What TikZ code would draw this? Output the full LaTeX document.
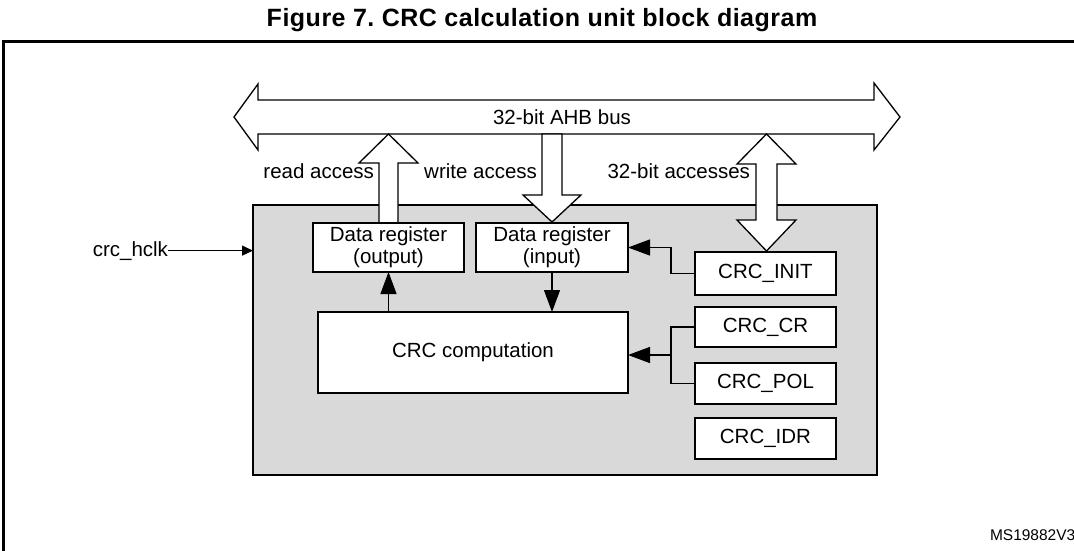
\documentclass[tikz,border=0pt]{standalone}
\usepackage{fontspec}
\setmainfont{Liberation Sans}
\usetikzlibrary{arrows.meta}

\begin{document}
\begin{tikzpicture}[x=1pt, y=-1pt]
\tikzset{ >={Triangle[length=22pt,width=16pt]}, inner sep=0pt, outer sep=0pt,
  reg/.style={draw, line width=1.8pt, fill=white, align=center, font=\fontsize{20.5}{22}\selectfont},
  lbl/.style={font=\fontsize{20.5}{24}\selectfont},
  fat/.style={draw, line width=1.3pt, fill=white, line join=miter},
  wire/.style={line width=1.3pt} }

\useasboundingbox (0,0) rectangle (1074,551);

%\draw [lightgray, dashed](0,0) grid[step=50] (1074,551);

\draw [line width=3pt] (1080,41.5) -- (3,41.5) -- (3,560);

\node [font=\fontsize{25}{28}\selectfont\bfseries\addfontfeature{LetterSpace=2}] (title) at (542,20) {Figure 7.\ CRC calculation unit block diagram};

\node [draw, fill=gray!30, line width=1.5pt, minimum width=624pt, minimum height=270pt] (crc) at (565,340) {};

\draw [fat] (234,117) -- (258,84) -- (258,100) -- (874,100) -- (874,83) -- (900,117)
            -- (874,150) -- (874,134) -- (258,134) -- (258,150) -- cycle;
\node [lbl] (bus) at (562,117) {32-bit AHB bus};

\draw [fat] (379,223) -- (379,163) -- (359,163) -- (388.5,134) -- (418,163) -- (398,163) -- (398,223) -- cycle;
\draw [fat] (542,134) -- (542,195) -- (523,195) -- (552,222) -- (581,195) -- (562,195) -- (562,134) -- cycle;
\draw [fat] (766.5,134) -- (796,164) -- (777,164) -- (777,220) -- (796,220) -- (766.5,251)
            -- (737,220) -- (756,220) -- (756,164) -- (737,164) -- cycle;

\node [lbl, anchor=base east] (rd)  at (374,178) {read access};
\node [lbl, anchor=base east] (wr)  at (537,178) {write access};
\node [lbl, anchor=base east] (acc) at (750,178) {32-bit accesses};

\node [reg, minimum width=151pt, minimum height=49pt] (dout) at (388.5,247.5) {Data register\\(output)};
\node [reg, minimum width=152pt, minimum height=49pt] (din)  at (552,247.5) {Data register\\(input)};
\node [reg, minimum width=310pt, minimum height=81pt] (comp) at (473,352.5) {CRC computation};

\node [reg, minimum width=141pt, minimum height=43pt] (init) at (765.5,273.5) {CRC\_INIT};
\node [reg, minimum width=141pt, minimum height=40pt] (cr)   at (765.5,327)   {CRC\_CR};
\node [reg, minimum width=141pt, minimum height=41pt] (pol)  at (765.5,383.5) {CRC\_POL};
\node [reg, minimum width=141pt, minimum height=41pt] (idr)  at (765.5,438.5) {CRC\_IDR};

\node [lbl, anchor=base east] (clk) at (168,256) {crc\_hclk};
\draw [wire, -{Triangle[length=11pt,width=10pt]}] (clk.east) -- (clk.east -| crc.west);

\draw [wire, ->] (dout.south |- comp.north) -- (dout.south);
\draw [wire, ->] (din.south) -- (din.south |- comp.north);
\draw [wire, ->] (init.west) -- ++(-24,0) |- (din.east);

\coordinate (junc) at (671,355);
\draw [wire] (cr.west) -| (junc) |- (pol.west);
\draw [wire, ->] (junc) -- (junc -| comp.east);

\node [anchor=base west, font=\fontsize{15.5}{18}\selectfont] (ref) at (990,540) {MS19882V3};

\end{tikzpicture}
\end{document}
